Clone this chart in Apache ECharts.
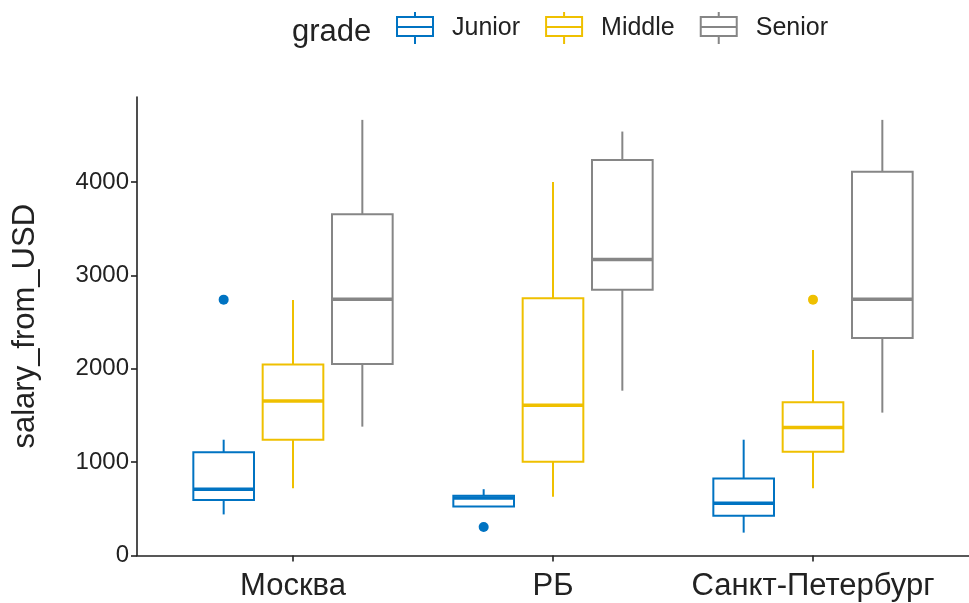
<!DOCTYPE html>
<html>
<head>
<meta charset="utf-8">
<script src="https://cdn.jsdelivr.net/npm/echarts@6/dist/echarts.min.js"></script>
<style>
  html, body { margin: 0; padding: 0; background: #fff; }
  #chart { width: 969px; height: 603px; }
</style>
</head>
<body>
<div id="chart"></div>
<script>
// ---- data ----
const categories = ['Москва', 'РБ', 'Санкт-Петербург'];
const grades = ['Junior', 'Middle', 'Senior'];
// [min, Q1, median, Q3, max] per category
const juniorBoxes = [[440, 595, 710, 1105, 1240], [525, 525, 615, 640, 710], [245, 425, 560, 825, 1240]];
const middleBoxes = [[720, 1240, 1655, 2045, 2735], [630, 1005, 1610, 2755, 4000], [720, 1110, 1370, 1640, 2200]];
const seniorBoxes = [[1380, 2050, 2745, 3655, 4665], [1765, 2845, 3170, 4235, 4540], [1530, 2330, 2745, 4110, 4665]];
// outliers: [category index (1-based), value]
const juniorOutliers = [[1, 2740], [2, 305]];
const middleOutliers = [[3, 2740]];
const seniorOutliers = [];
const yTicks = [0, 1000, 2000, 3000, 4000];

const colors = ['#0073C2', '#EFC000', '#868686'];
const boxesByGrade = [juniorBoxes, middleBoxes, seniorBoxes];
const outliersByGrade = [juniorOutliers, middleOutliers, seniorOutliers];
const dodgeWidth = 0.8;   // position_dodge
const boxWidth = 0.7;     // total width of a dodged group
const nGroups = grades.length;

function offsetFor(g) {
  return (g - (nGroups - 1) / 2) * dodgeWidth / nGroups;
}

function boxRenderer(g) {
  const col = colors[g];
  return function (params, api) {
    const cx = api.value(0);
    const unit = api.size([1, 0])[0];
    const x = api.coord([cx, 0])[0] + offsetFor(g) * unit;
    const hw = boxWidth / nGroups / 2 * unit;
    const yMin = api.coord([cx, api.value(1)])[1];
    const yQ1 = api.coord([cx, api.value(2)])[1];
    const yMed = api.coord([cx, api.value(3)])[1];
    const yQ3 = api.coord([cx, api.value(4)])[1];
    const yMax = api.coord([cx, api.value(5)])[1];
    const lw = 2;
    return {
      type: 'group',
      children: [
        { type: 'line', shape: { x1: x, y1: yMax, x2: x, y2: yQ3 }, style: { stroke: col, lineWidth: lw } },
        { type: 'line', shape: { x1: x, y1: yQ1, x2: x, y2: yMin }, style: { stroke: col, lineWidth: lw } },
        { type: 'rect', shape: { x: x - hw, y: yQ3, width: 2 * hw, height: yQ1 - yQ3 }, style: { fill: '#fff', stroke: col, lineWidth: lw } },
        { type: 'line', shape: { x1: x - hw, y1: yMed, x2: x + hw, y2: yMed }, style: { stroke: col, lineWidth: 3.5 } }
      ]
    };
  };
}

function outlierRenderer(g) {
  const col = colors[g];
  return function (params, api) {
    const cx = api.value(0);
    const unit = api.size([1, 0])[0];
    const p = api.coord([cx, api.value(1)]);
    return { type: 'circle', shape: { cx: p[0] + offsetFor(g) * unit, cy: p[1], r: 5 }, style: { fill: col } };
  };
}

const series = [];
grades.forEach(function (name, g) {
  series.push({
    type: 'custom', name: name,
    itemStyle: { color: colors[g] },
    encode: { x: 0, y: [1, 2, 3, 4, 5] },
    data: boxesByGrade[g].map(function (b, i) { return [i + 1].concat(b); }),
    renderItem: boxRenderer(g)
  });
  series.push({
    type: 'custom', name: name,
    itemStyle: { color: colors[g] },
    encode: { x: 0, y: 1 },
    data: outliersByGrade[g],
    renderItem: outlierRenderer(g)
  });
});

const legendIcon = 'path://M18,0L18,5M0,5L36,5L36,24L0,24ZM0,15L36,15M18,24L18,32';
const font = 'Liberation Sans, Arial, sans-serif';
const textCol = '#222';

const chart = echarts.init(document.getElementById('chart'), null, { renderer: 'canvas' });
chart.setOption({
  backgroundColor: '#fff',
  animation: false,
  title: {
    text: 'grade', left: 287, top: 12,
    textStyle: { fontFamily: font, fontSize: 31, fontWeight: 'normal', color: textCol }
  },
  legend: {
    left: 396, top: 11, padding: 0,
    itemWidth: 36, itemHeight: 32, itemGap: 25,
    selectedMode: false,
    textStyle: { fontFamily: font, fontSize: 25, color: textCol, padding: [0, 0, 0, 14] },
    data: grades.map(function (n, g) {
      return { name: n, icon: legendIcon, itemStyle: { color: '#fff', borderColor: colors[g], borderWidth: 2 } };
    })
  },
  grid: { left: 137, top: 97, width: 845, height: 458.5 },
  xAxis: {
    type: 'value', min: 0.4, max: 3.6,
    splitLine: { show: false },
    axisLine: { show: true, lineStyle: { color: textCol, width: 1.6 } },
    axisTick: { show: true, length: 6, customValues: [1, 2, 3], lineStyle: { color: textCol, width: 1.6 } },
    axisLabel: {
      customValues: [1, 2, 3], margin: 15,
      fontFamily: font, fontSize: 31, color: textCol,
      formatter: function (v) { return categories[Math.round(v) - 1] || ''; }
    }
  },
  yAxis: {
    type: 'value', min: 0, max: 4910,
    name: 'salary_from_USD', nameLocation: 'middle', nameRotate: 90, nameGap: 96,
    nameTextStyle: { fontFamily: font, fontSize: 31, color: textCol },
    splitLine: { show: false },
    axisLine: { show: true, lineStyle: { color: textCol, width: 1.6 } },
    axisTick: { show: true, length: 6, customValues: yTicks, lineStyle: { color: textCol, width: 1.6 } },
    axisLabel: {
      customValues: yTicks,
      margin: 8, fontFamily: font, fontSize: 24, color: textCol,
      formatter: function (v) { return String(v); }
    }
  },
  series: series
});
</script>
</body>
</html>
